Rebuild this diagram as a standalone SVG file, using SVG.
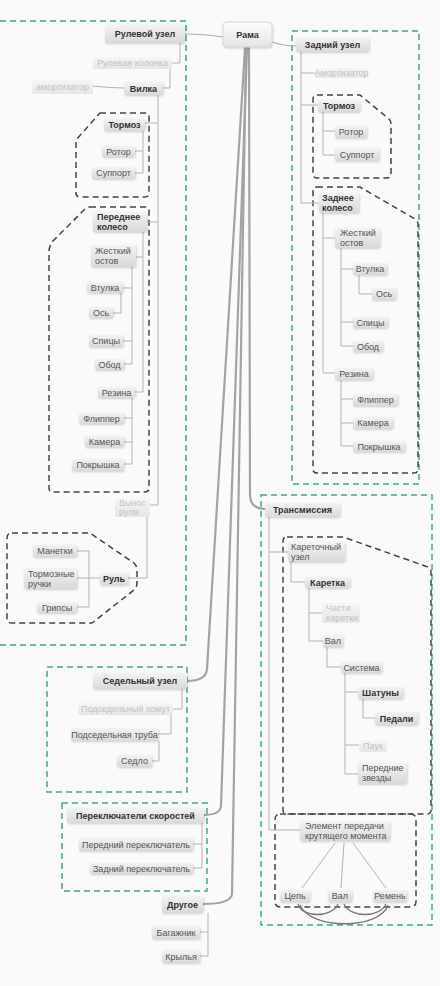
<svg xmlns="http://www.w3.org/2000/svg" width="440" height="986" viewBox="0 0 440 986">
<defs>
<linearGradient id="gn" x1="0" y1="0" x2="0" y2="1"><stop offset="0" stop-color="#f3f3f3"/><stop offset="1" stop-color="#d9d9d9"/></linearGradient>
<linearGradient id="gf" x1="0" y1="0" x2="0" y2="1"><stop offset="0" stop-color="#f6f6f6"/><stop offset="1" stop-color="#e6e6e6"/></linearGradient>
<linearGradient id="gr" x1="0" y1="0" x2="0" y2="1"><stop offset="0" stop-color="#fdfdfd"/><stop offset="1" stop-color="#e4e4e4"/></linearGradient>
<filter id="sh" x="-20%" y="-30%" width="140%" height="170%"><feDropShadow dx="0.6" dy="1" stdDeviation="1" flood-color="#000" flood-opacity="0.18"/></filter>
</defs>
<style>
.n{fill:url(#gn);filter:url(#sh)}
.nf{fill:url(#gf)}
.t{font-family:"Liberation Sans",Arial,sans-serif;font-size:9px;fill:#555}
.m{text-anchor:middle}
.b{font-weight:bold;fill:#333}
.f{fill:#c2c2c2}
.c{fill:none;stroke:#b3b3b3;stroke-width:1}
.k{fill:none;stroke:#a3a3a3;stroke-width:2.2;stroke-linecap:round}
.h{fill:none;stroke:#aaa;stroke-width:1.2}
.g{fill:none;stroke:#34b27e;stroke-width:1.5;stroke-dasharray:6 4}
.d{fill:none;stroke:#444;stroke-width:1.5;stroke-dasharray:6 4}
.r{fill:none;stroke:#777;stroke-width:1.3}
</style>
<rect width="440" height="986" fill="#fafafa"/>

<g id="boundaries">
<path class="g" d="M0,21 H186 V645 H0"/>
<rect class="g" x="292" y="31" width="127" height="453"/>
<rect class="g" x="261" y="495" width="171" height="430"/>
<rect class="g" x="47" y="667" width="140" height="125"/>
<rect class="g" x="62" y="803" width="145" height="88"/>
<path class="d" d="M100,113 H145 Q149,113 149,117 V193 Q149,197 145,197 H80 Q76,197 76,193 V140 Z"/>
<path class="d" d="M90,207 H145 Q149,207 149,211 V488 Q149,492 145,492 H53 Q49,492 49,488 V252 Q49,246 53,241 L85,209 Q87,207 90,207 Z"/>
<path class="d" d="M12,533 H90 L134,563 Q137,566 137,570 V583 Q137,587 134,590 L92,623 H12 Q7,623 7,618 V538 Q7,533 12,533 Z"/>
<path class="d" d="M317,95 H360 L389,119 Q391,121 391,124 V174 Q391,178 387,178 H317 Q313,178 313,174 V99 Q313,95 317,95 Z"/>
<path class="d" d="M317,187 H360 L415,219 Q418,221 418,224 V469 Q418,473 414,473 H317 Q313,473 313,469 V191 Q313,187 317,187 Z"/>
<path class="d" d="M287,537 H343 L428,567 Q431,569 431,572 V810 Q431,814 427,814 H287 Q283,814 283,810 V541 Q283,537 287,537 Z"/>
<rect class="d" x="275" y="814" width="141" height="93" rx="5"/>
</g>

<g id="connectors">
<path class="h" d="M223,37 Q205,34 185,34"/>
<path class="h" d="M272,42 Q284,46 296,46"/>
<path class="k" d="M249,48 L250,496 Q251,509 265,509"/>
<path class="k" d="M245,48 L207,669 Q206,681 187,681"/>
<path class="k" d="M247,48 L221,806 Q220,815 204,815"/>
<path class="k" d="M246,48 L232,894 Q231,904 203,904"/>
<path class="c" d="M180,43 V63 H172"/>
<path class="c" d="M170,69 V88 H163"/>
<path class="c" d="M124,88 Q110,88 93,86"/>
<path class="c" d="M158,95 V505 H150 M158,123 H145 M158,222 H147"/>
<path class="c" d="M143,130 V173 H135 M143,151 H135"/>
<path class="c" d="M143,232 V392 H135 M143,257 H136"/>
<path class="c" d="M132,267 V364 H124 M132,288 H123 M132,341 H123"/>
<path class="c" d="M121,293 V313 H113"/>
<path class="c" d="M132,398 V464 H124 M132,418 H124 M132,442 H124"/>
<path class="c" d="M147,517 V578 H128"/>
<path class="c" d="M100,578 H89 M89,551 V607 M89,551 H77 M89,578 H77 M89,607 H77"/>
<path class="c" d="M182,689 V709 H173"/>
<path class="c" d="M171,715 V734 H158"/>
<path class="c" d="M159,741 V761 H152"/>
<path class="c" d="M202,823 V868 H193 M202,844 H193"/>
<path class="c" d="M208,913 V956 H200 M208,932 H200"/>
<path class="c" d="M301,52 V203 H319 M301,73 H315 M301,105 H318"/>
<path class="c" d="M323,112 V155 H335 M323,131 H335"/>
<path class="c" d="M323,213 V373 H335 M323,238 H335"/>
<path class="c" d="M341,248 V346 H353 M341,269 H353 M341,322 H353"/>
<path class="c" d="M359,275 V294 H372"/>
<path class="c" d="M341,380 V446 H353 M341,399 H353 M341,423 H353"/>
<path class="c" d="M269,517 V830 H300 M269,552 H288"/>
<path class="c" d="M291,562 V582 H305"/>
<path class="c" d="M309,588 V641 H323 M309,613 H322"/>
<path class="c" d="M327,647 V667 H341"/>
<path class="c" d="M345,673 V774 H358 M345,692 H358 M345,745 H359"/>
<path class="c" d="M363,699 V718 H375"/>
<path class="c" d="M335,843 L302,888 M344,843 L341,888 M353,843 L386,888"/>
<path class="r" d="M298,904 C302,918 332,918 338,904"/>
<path class="r" d="M344,904 C350,918 380,918 386,904"/>
<path class="r" d="M300,905 C310,930 380,930 388,905"/>
</g>

<g id="root"><rect x="223" y="22" width="49" height="25" rx="4" fill="url(#gr)" stroke="#cfcfcf" stroke-width="0.8" filter="url(#sh)"/><text class="t m b" x="247.5" y="38">Рама</text></g>

<g id="rul_uzel"><rect class="n" x="105" y="25" width="80" height="18" rx="2"/><text class="t m b" x="145" y="37">Рулевой узел</text></g>
<g id="rul_kol"><rect class="nf" x="93" y="57" width="79" height="12" rx="2"/><text class="t m f" x="132.5" y="66">Рулевая колонка</text></g>
<g id="vilka"><rect class="n" x="124" y="82" width="39" height="13" rx="2"/><text class="t m b" x="143.5" y="91.5">Вилка</text></g>
<g id="amort_f"><rect class="nf" x="32" y="80" width="61" height="14" rx="2"/><text class="t m f" x="62.5" y="90">амортизатор</text></g>
<g id="tormoz_f"><rect class="n" x="104" y="119" width="41" height="12" rx="2"/><text class="t m b" x="124.5" y="128">Тормоз</text></g>
<g id="rotor_f"><rect class="n" x="102" y="146" width="33" height="11" rx="2"/><text class="t m" x="118.5" y="154.5">Ротор</text></g>
<g id="support_f"><rect class="n" x="92" y="167" width="43" height="12" rx="2"/><text class="t m" x="113.5" y="176">Суппорт</text></g>
<g id="pered_kol"><rect class="n" x="93" y="212" width="54" height="20" rx="2"/><text class="t b" x="97" y="220">Переднее</text><text class="t b" x="97" y="230">колесо</text></g>
<g id="zhest_f"><rect class="n" x="91" y="245" width="45" height="22" rx="2"/><text class="t" x="95" y="254">Жесткий</text><text class="t" x="95" y="264">остов</text></g>
<g id="vtulka_f"><rect class="n" x="87" y="282" width="36" height="11" rx="2"/><text class="t m" x="105" y="290.5">Втулка</text></g>
<g id="os_f"><rect class="n" x="89" y="307" width="24" height="11" rx="2"/><text class="t m" x="101" y="315.5">Ось</text></g>
<g id="spicy_f"><rect class="n" x="89" y="335" width="34" height="12" rx="2"/><text class="t m" x="106" y="344">Спицы</text></g>
<g id="obod_f"><rect class="n" x="95" y="359" width="29" height="11" rx="2"/><text class="t m" x="109.5" y="367.5">Обод</text></g>
<g id="rezina_f"><rect class="n" x="98" y="387" width="37" height="11" rx="2"/><text class="t m" x="116.5" y="395.5">Резина</text></g>
<g id="flipper_f"><rect class="n" x="79" y="413" width="45" height="11" rx="2"/><text class="t m" x="101.5" y="421.5">Флиппер</text></g>
<g id="kamera_f"><rect class="n" x="85" y="436" width="39" height="11" rx="2"/><text class="t m" x="104.5" y="444.5">Камера</text></g>
<g id="pokr_f"><rect class="n" x="72" y="459" width="52" height="12" rx="2"/><text class="t m" x="98" y="468">Покрышка</text></g>
<g id="vynos"><rect class="nf" x="115" y="498" width="35" height="19" rx="2"/><text class="t f" x="119" y="506">Вынос</text><text class="t f" x="119" y="515">руля</text></g>
<g id="rul"><rect class="n" x="100" y="573" width="28" height="12" rx="2"/><text class="t m b" x="114" y="582">Руль</text></g>
<g id="manetki"><rect class="n" x="33" y="545" width="44" height="12" rx="2"/><text class="t m" x="55" y="554">Манетки</text></g>
<g id="torm_ruchki"><rect class="n" x="24" y="568" width="53" height="21" rx="2"/><text class="t" x="28" y="577">Тормозные</text><text class="t" x="28" y="587">ручки</text></g>
<g id="gripsy"><rect class="n" x="37" y="602" width="40" height="11" rx="2"/><text class="t m" x="57" y="610.5">Грипсы</text></g>

<g id="sedel_uzel"><rect class="n" x="93" y="673" width="94" height="16" rx="2"/><text class="t m b" x="140" y="684">Седельный узел</text></g>
<g id="homut"><rect class="nf" x="78" y="703" width="95" height="12" rx="2"/><text class="t m f" x="125.5" y="712">Подседельный хомут</text></g>
<g id="truba"><rect class="n" x="71" y="728" width="87" height="13" rx="2"/><text class="t m" x="114.5" y="737.5">Подседельная труба</text></g>
<g id="sedlo"><rect class="n" x="117" y="755" width="35" height="12" rx="2"/><text class="t m" x="134.5" y="764">Седло</text></g>

<g id="perekl"><rect class="n" x="67" y="808" width="137" height="15" rx="2"/><text class="t m b" x="135.5" y="818.5">Переключатели скоростей</text></g>
<g id="pered_perekl"><rect class="n" x="79" y="838" width="114" height="13" rx="2"/><text class="t m" x="136" y="847.5">Передний переключатель</text></g>
<g id="zad_perekl"><rect class="n" x="90" y="863" width="103" height="11" rx="2"/><text class="t m" x="141.5" y="871.5">Задний переключатель</text></g>
<g id="drugoe"><rect class="n" x="162" y="896" width="41" height="17" rx="2"/><text class="t m b" x="182.5" y="907.5">Другое</text></g>
<g id="bagazh"><rect class="n" x="152" y="926" width="48" height="13" rx="2"/><text class="t m" x="176" y="935.5">Багажник</text></g>
<g id="krylya"><rect class="n" x="162" y="950" width="38" height="13" rx="2"/><text class="t m" x="181" y="959.5">Крылья</text></g>

<g id="zad_uzel"><rect class="n" x="296" y="38" width="73" height="14" rx="2"/><text class="t m b" x="332.5" y="48">Задний узел</text></g>
<g id="amort_r"><rect class="nf" x="315" y="68" width="53" height="10" rx="2"/><text class="t m f" x="341.5" y="76">Амортизатор</text></g>
<g id="tormoz_r"><rect class="n" x="318" y="100" width="42" height="12" rx="2"/><text class="t m b" x="339" y="109">Тормоз</text></g>
<g id="rotor_r"><rect class="n" x="335" y="126" width="32" height="12" rx="2"/><text class="t m" x="351" y="135">Ротор</text></g>
<g id="support_r"><rect class="n" x="335" y="148" width="44" height="13" rx="2"/><text class="t m" x="357" y="157.5">Суппорт</text></g>
<g id="zad_kol"><rect class="n" x="319" y="193" width="40" height="20" rx="2"/><text class="t b" x="322" y="201">Заднее</text><text class="t b" x="322" y="211">колесо</text></g>
<g id="zhest_r"><rect class="n" x="335" y="228" width="45" height="20" rx="2"/><text class="t" x="340" y="236">Жесткий</text><text class="t" x="340" y="246">остов</text></g>
<g id="vtulka_r"><rect class="n" x="353" y="263" width="34" height="12" rx="2"/><text class="t m" x="370" y="272">Втулка</text></g>
<g id="os_r"><rect class="n" x="372" y="288" width="24" height="12" rx="2"/><text class="t m" x="384" y="297">Ось</text></g>
<g id="spicy_r"><rect class="n" x="353" y="317" width="35" height="11" rx="2"/><text class="t m" x="370.5" y="325.5">Спицы</text></g>
<g id="obod_r"><rect class="n" x="353" y="341" width="30" height="11" rx="2"/><text class="t m" x="368" y="349.5">Обод</text></g>
<g id="rezina_r"><rect class="n" x="335" y="368" width="38" height="12" rx="2"/><text class="t m" x="354" y="377">Резина</text></g>
<g id="flipper_r"><rect class="n" x="353" y="394" width="45" height="12" rx="2"/><text class="t m" x="375.5" y="403">Флиппер</text></g>
<g id="kamera_r"><rect class="n" x="353" y="417" width="40" height="12" rx="2"/><text class="t m" x="373" y="426">Камера</text></g>
<g id="pokr_r"><rect class="n" x="353" y="441" width="52" height="11" rx="2"/><text class="t m" x="379" y="449.5">Покрышка</text></g>

<g id="transm"><rect class="n" x="265" y="503" width="75" height="14" rx="2"/><text class="t m b" x="302.5" y="513">Трансмиссия</text></g>
<g id="karet_uzel"><rect class="n" x="288" y="542" width="57" height="20" rx="2"/><text class="t" x="291" y="550">Кареточный</text><text class="t" x="291" y="560">узел</text></g>
<g id="karetka"><rect class="n" x="305" y="577" width="45" height="11" rx="2"/><text class="t m b" x="327.5" y="585.5">Каретка</text></g>
<g id="chasti"><rect class="nf" x="322" y="603" width="38" height="20" rx="2"/><text class="t f" x="326" y="611">Части</text><text class="t f" x="326" y="621">каретки</text></g>
<g id="val_k"><rect class="n" x="323" y="635" width="20" height="12" rx="2"/><text class="t m" x="333" y="644">Вал</text></g>
<g id="sistema"><rect class="n" x="341" y="662" width="41" height="11" rx="2"/><text class="t m" x="361.5" y="670.5">Система</text></g>
<g id="shatuny"><rect class="n" x="358" y="687" width="45" height="12" rx="2"/><text class="t m b" x="380.5" y="696">Шатуны</text></g>
<g id="pedali"><rect class="n" x="375" y="712" width="43" height="13" rx="2"/><text class="t m b" x="396.5" y="721.5">Педали</text></g>
<g id="pauk"><rect class="nf" x="359" y="740" width="28" height="12" rx="2"/><text class="t m f" x="373" y="749">Паук</text></g>
<g id="per_zvezdy"><rect class="n" x="358" y="763" width="49" height="21" rx="2"/><text class="t" x="362" y="771">Передние</text><text class="t" x="362" y="781">звезды</text></g>
<g id="element"><rect class="n" x="300" y="821" width="90" height="20" rx="2"/><text class="t" x="305" y="829">Элемент передачи</text><text class="t" x="305" y="839">крутящего момента</text></g>
<g id="cep"><rect class="n" x="280" y="890" width="30" height="12" rx="2"/><text class="t m" x="295" y="899">Цепь</text></g>
<g id="val_t"><rect class="n" x="328" y="890" width="24" height="12" rx="2"/><text class="t m" x="340" y="899">Вал</text></g>
<g id="remen"><rect class="n" x="373" y="890" width="34" height="12" rx="2"/><text class="t m" x="390" y="899">Ремень</text></g>
</svg>
